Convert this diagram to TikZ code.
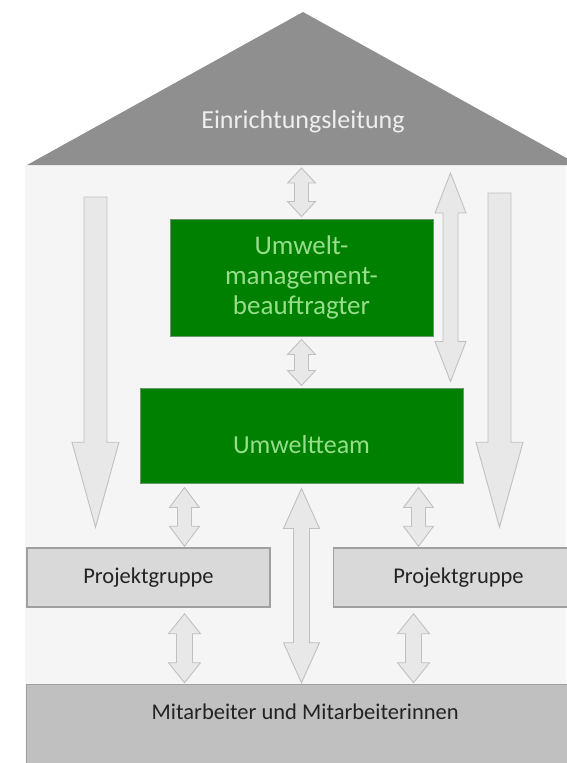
\documentclass[tikz,border=0pt]{standalone}
\usepackage{fontspec}
\setmainfont{Carlito}
\usepackage{tikz}
\usetikzlibrary{calc,positioning}

\definecolor{roofgray}{RGB}{143,143,143}
\definecolor{rooftext}{RGB}{238,238,238}
\definecolor{bodybg}{RGB}{245,245,245}
\definecolor{umwgreen}{RGB}{0,128,0}
\definecolor{umwline}{RGB}{110,150,110}
\definecolor{greentext}{RGB}{150,222,140}
\definecolor{pgfill}{RGB}{217,217,217}
\definecolor{pgline}{RGB}{160,160,160}
\definecolor{stafffill}{RGB}{192,192,192}
\definecolor{arrowfill}{RGB}{232,232,232}
\definecolor{arrowline}{RGB}{192,192,192}
\definecolor{darktext}{RGB}{35,35,35}

\tikzstyle{green box} = [rectangle, draw=umwline, line width=1pt, fill=umwgreen,
    text=greentext, align=center, inner sep=0pt]
\tikzstyle{group} = [rectangle, draw=pgline, line width=1.5pt, fill=pgfill,
    text=darktext, inner sep=0pt, minimum height=59pt, font=\fontsize{22.5}{27}\selectfont]
\tikzstyle{fat} = [draw=arrowline, fill=arrowfill, line width=0.9pt]
\tikzset{
  ahead/.store in=\ahead, ashaft/.store in=\ashaft, alen/.store in=\alen,
  ahead=14, ashaft=7, alen=15,
  both/.style={fat, to path={-- ++(\ahead,\alen) -- ++(\ashaft-\ahead,0)
    -- ($(\tikztotarget)+(\ashaft,-\alen)$) -- ++(\ahead-\ashaft,0) -- (\tikztotarget)
    -- ++(-\ahead,-\alen) -- ++(\ahead-\ashaft,0)
    -- ($(\tikztostart)+(-\ashaft,\alen)$) -- ++(\ashaft-\ahead,0) -- cycle}},
  down/.style={fat, to path={($(\tikztostart)+(\ashaft,0)$)
    -- ($(\tikztotarget)+(\ashaft,-\alen)$) -- ++(\ahead-\ashaft,0) -- (\tikztotarget)
    -- ++(-\ahead,-\alen) -- ++(\ahead-\ashaft,0)
    -- ($(\tikztostart)+(-\ashaft,0)$) -- cycle}}
}

\begin{document}
\begin{tikzpicture}[x=1pt, y=-1pt]
  \useasboundingbox (0,0) rectangle (566,763);
  % House
  \fill[bodybg] (25,165) rectangle (566,763);
  \fill[roofgray] (27,165) -- (303,12) -- (579,165) -- cycle;
  \coordinate (eaves) at (303,165);
  % Place nodes
  \node[text=rooftext, anchor=base, font=\fontsize{26}{31}\selectfont] (lead) at (303,128) {Einrichtungsleitung};
  \node[green box, minimum width=323pt, minimum height=95pt, text height=40pt, text depth=5pt,
    font=\fontsize{26}{31}\selectfont] (team) at (301.5,435.5) {Umweltteam};
  \node[green box, minimum width=263pt, minimum height=117pt,
    font=\fontsize{27}{30}\selectfont, above=51pt of team] (umb) {Umwelt-\\management-\\beauftragter};
  \node[group, minimum width=243pt] (pg1) at (148.5,577.5) {Projektgruppe};
  \node[group, minimum width=250pt, right=62pt of pg1] (pg2) {Projektgruppe};
  \node[rectangle, fill=stafffill, draw=pgline, line width=1pt, text=darktext, inner ysep=19pt,
    minimum width=557pt, text height=16pt, text depth=60pt, font=\fontsize{22.5}{27}\selectfont,
    below=76pt of pg1.south west, anchor=north west] (staff) {Mitarbeiter und Mitarbeiterinnen};
  % Draw edges
  \draw[both] ([yshift=-3pt]umb.north |- eaves) to ([yshift=2pt]umb.north);
  \draw[both] ([yshift=-3pt]umb.south) to ([yshift=2pt]umb.south |- team.north);
  \draw[both, ahead=15.5, ashaft=7.5, alen=40]
    ([xshift=17pt,yshift=-8pt]umb.north east |- eaves) to ([xshift=17pt,yshift=6pt]umb.north east |- team.north);
  \draw[down, ahead=23.5, ashaft=11.5, alen=85]
    ([xshift=-44pt,yshift=-32pt]team.west |- eaves) to ([xshift=-44pt,yshift=20pt]team.west |- pg1.north);
  \draw[down, ahead=23.5, ashaft=11.5, alen=85]
    ([xshift=36pt,yshift=-28pt]team.east |- eaves) to ([xshift=36pt,yshift=20pt]team.east |- pg2.north);
  \draw[both, ahead=18, ashaft=8, alen=40]
    ([yshift=-5pt]team.south) to ([yshift=1pt]team.south |- staff.north);
  \draw[both, ahead=15, ashaft=7, alen=20]
    ([xshift=45pt,yshift=-4pt]team.south west) to ([xshift=45pt,yshift=1pt]team.south west |- pg1.north);
  \draw[both, ahead=15, ashaft=7, alen=20]
    ([xshift=-45pt,yshift=-4pt]team.south east) to ([xshift=-45pt,yshift=1pt]team.south east |- pg2.north);
  \draw[both, ahead=16, ashaft=8, alen=20]
    ([xshift=45pt,yshift=-6pt]team.south west |- pg1.south) to ([xshift=45pt,yshift=1pt]team.south west |- staff.north);
  \draw[both, ahead=16, ashaft=8, alen=20]
    ([xshift=-50pt,yshift=-6pt]team.south east |- pg2.south) to ([xshift=-50pt,yshift=1pt]team.south east |- staff.north);
\end{tikzpicture}
\end{document}
